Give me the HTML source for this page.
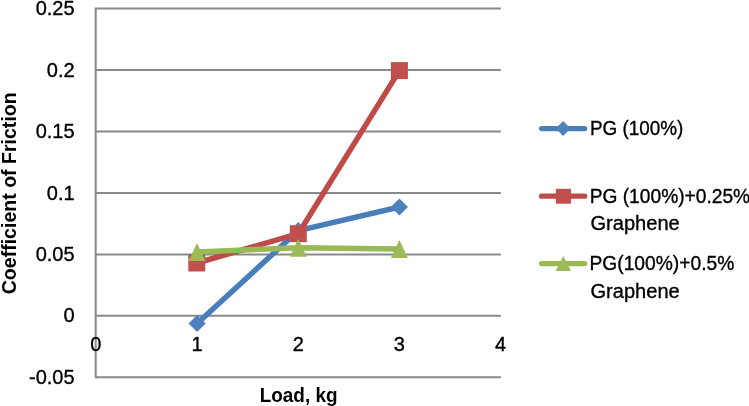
<!DOCTYPE html>
<html><head><meta charset="utf-8">
<style>
html,body{margin:0;padding:0;background:#fff;width:749px;height:406px;overflow:hidden}
svg{display:block;will-change:transform}
text{font-family:"Liberation Sans",sans-serif;fill:#000}
</style></head>
<body>
<svg width="749" height="406" viewBox="0 0 749 406">
<rect width="749" height="406" fill="#fff"/>
<!-- gridlines -->
<g stroke="#898989" stroke-width="2" fill="none">
<line x1="95.7" y1="8.50" x2="500.9" y2="8.50"/>
<line x1="95.7" y1="69.97" x2="500.9" y2="69.97"/>
<line x1="95.7" y1="131.44" x2="500.9" y2="131.44"/>
<line x1="95.7" y1="192.91" x2="500.9" y2="192.91"/>
<line x1="95.7" y1="254.38" x2="500.9" y2="254.38"/>
<line x1="95.7" y1="315.85" x2="500.9" y2="315.85"/>
<line x1="95.7" y1="377.32" x2="500.9" y2="377.32"/>
<line x1="95.7" y1="7.50" x2="95.7" y2="378.32"/>
</g>
<!-- y labels -->
<g font-size="20" text-anchor="end" stroke="#000" stroke-width="0.35">
<text x="74.6" y="15.10">0.25</text>
<text x="74.6" y="76.57">0.2</text>
<text x="74.6" y="138.04">0.15</text>
<text x="74.6" y="199.51">0.1</text>
<text x="74.6" y="260.98">0.05</text>
<text x="74.6" y="322.45">0</text>
<text x="74.6" y="383.92">-0.05</text>
</g>
<!-- x labels -->
<g font-size="20" text-anchor="middle" stroke="#000" stroke-width="0.35">
<text x="95.9" y="351">0</text>
<text x="197" y="351">1</text>
<text x="298.2" y="351">2</text>
<text x="399.4" y="351">3</text>
<text x="500.5" y="351">4</text>
</g>
<!-- axis titles -->
<text x="298.6" y="401.5" font-size="19.8" font-weight="bold" text-anchor="middle" textLength="77.8" lengthAdjust="spacingAndGlyphs">Load, kg</text>
<text transform="translate(16,193.3) rotate(-90)" x="0" y="0" font-size="19.8" font-weight="bold" text-anchor="middle" textLength="202" lengthAdjust="spacingAndGlyphs">Coefficient of Friction</text>

<!-- series blue -->
<g fill="#4F81BD" stroke="#4A7EBB">
<polyline points="197.1,323.5 298.3,230.6 399.4,207" fill="none" stroke-width="5.5" stroke-linejoin="round" stroke-linecap="round"/>
<g stroke="none">
<path d="M197.1,314.9 L205.7,323.5 L197.1,332.1 L188.5,323.5Z"/>
<path d="M298.3,222.0 L306.90000000000003,230.6 L298.3,239.2 L289.7,230.6Z"/>
<path d="M399.4,198.4 L408.0,207 L399.4,215.6 L390.79999999999995,207Z"/>
</g>
</g>
<!-- series red -->
<g fill="#C0504D" stroke="#BE4B48">
<polyline points="196.8,263 298.3,233.7 399.4,70.6" fill="none" stroke-width="5.5" stroke-linejoin="round" stroke-linecap="round"/>
<g stroke="none">
<rect x="188.3" y="254.5" width="17" height="17"/>
<rect x="289.8" y="225.2" width="17" height="17"/>
<rect x="390.9" y="62.1" width="17" height="17"/>
</g>
</g>
<!-- series green -->
<g fill="#9BBB59" stroke="#98B954">
<polyline points="197,252 298.3,247.7 399.4,249" fill="none" stroke-width="5.5" stroke-linejoin="round" stroke-linecap="round"/>
<g stroke="none">
<path d="M197,243 L205.5,261 L188.5,261Z"/>
<path d="M298.3,238.7 L306.8,256.7 L289.8,256.7Z"/>
<path d="M399.4,240 L407.9,258 L390.9,258Z"/>
</g>
</g>

<!-- legend -->
<g stroke-width="5.3" stroke-linecap="round">
<line x1="541.6" y1="128.6" x2="584.7" y2="128.6" stroke="#4A7EBB"/>
<line x1="541.6" y1="196.2" x2="584.7" y2="196.2" stroke="#BE4B48"/>
<line x1="541.6" y1="263.6" x2="584.7" y2="263.6" stroke="#98B954"/>
</g>
<path d="M563.1,121 L570.6,128.5 L563.1,136 L555.6,128.5Z" fill="#4F81BD"/>
<rect x="555.8" y="188.8" width="15.2" height="14.9" fill="#C0504D"/>
<path d="M563.3,256 L571,271 L555.6,271Z" fill="#9BBB59"/>
<g font-size="20" stroke="#000" stroke-width="0.35">
<text x="590" y="135.4" textLength="93.3" lengthAdjust="spacingAndGlyphs">PG (100%)</text>
<text x="589.7" y="202.8" textLength="160.5" lengthAdjust="spacingAndGlyphs">PG (100%)+0.25%</text>
<text x="590.5" y="229.9" textLength="89.2" lengthAdjust="spacingAndGlyphs">Graphene</text>
<text x="589.5" y="270" textLength="144.8" lengthAdjust="spacingAndGlyphs">PG(100%)+0.5%</text>
<text x="590.5" y="297.5" textLength="89.2" lengthAdjust="spacingAndGlyphs">Graphene</text>
</g>
</svg>
</body></html>
